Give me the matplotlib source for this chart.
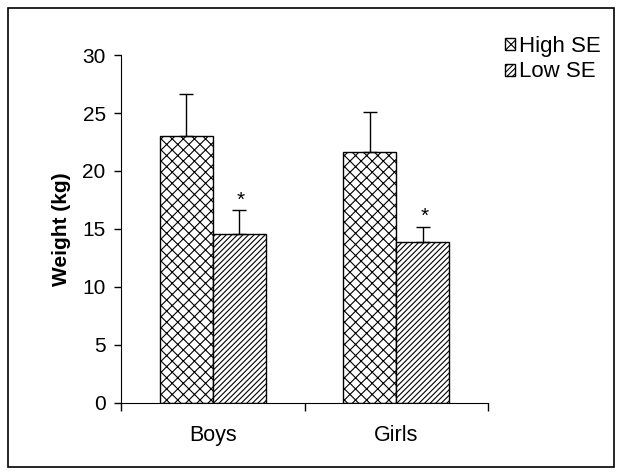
import matplotlib
matplotlib.use("Agg")
import matplotlib.pyplot as plt
from matplotlib.patches import Rectangle
import numpy as np

plt.rcParams['font.family'] = ['Liberation Sans', 'DejaVu Sans']
plt.rcParams['hatch.linewidth'] = 0.8

categories = ["Boys", "Girls"]
series = ["High SE", "Low SE"]
high_se = [23.0, 21.6]
high_err = [3.6, 3.5]
low_se = [14.6, 13.9]
low_err = [2.0, 1.3]
yticks = [0, 5, 10, 15, 20, 25, 30]

fig = plt.figure(figsize=(6.22, 4.75), dpi=100)
ax = fig.add_axes([0.1945, 0.1516, 0.5901, 0.7326])

x = np.arange(len(categories))
w = 0.29
b1 = ax.bar(x - w/2, high_se, w, facecolor='white', edgecolor='black', hatch='xxx', linewidth=1.0, label=series[0])
b2 = ax.bar(x + w/2, low_se, w, facecolor='white', edgecolor='black', hatch='//////', linewidth=1.0, label=series[1])
ax.errorbar(x - w/2, high_se, yerr=[np.zeros(2), high_err], fmt='none', ecolor='black', elinewidth=1, capsize=4.7, capthick=1)
ax.errorbar(x + w/2, low_se, yerr=[np.zeros(2), low_err], fmt='none', ecolor='black', elinewidth=1, capsize=4.7, capthick=1)
for xi, v, e in zip(x + w/2, low_se, low_err):
    ax.text(xi + 0.01, v + e + 0.05, "*", ha='center', va='bottom', fontsize=15)

ax.set_xlim(-0.5, 1.5)
ax.set_ylim(0, 30)
ax.set_yticks(yticks)
ax.set_ylabel("Weight (kg)", fontsize=15, fontweight='bold', labelpad=8)
ax.set_xticks(x)
ax.set_xticklabels(categories, fontsize=15.5)
ax.tick_params(axis='x', length=0, pad=16)
ax.set_xticks([-0.5, 0.5, 1.5], minor=True)
ax.tick_params(axis='x', which='minor', length=6, direction='out', width=1)
ax.tick_params(axis='y', labelsize=15, length=5, direction='out', width=1, pad=6)
ax.spines['top'].set_visible(False)
ax.spines['right'].set_visible(False)

ax.legend(handles=[b1, b2], loc='upper left', bbox_to_anchor=(505/622, 1 - 36/475),
          bbox_transform=fig.transFigure, frameon=False, borderpad=0, borderaxespad=0,
          fontsize=16, handlelength=0.45, handleheight=0.45, handletextpad=0.18, labelspacing=0.2)

fig.patches.append(Rectangle((8/622, 8/475), 606/622, 459/475, transform=fig.transFigure,
                             fill=False, edgecolor='black', linewidth=1.2))

fig.savefig("out.png", dpi=100)
